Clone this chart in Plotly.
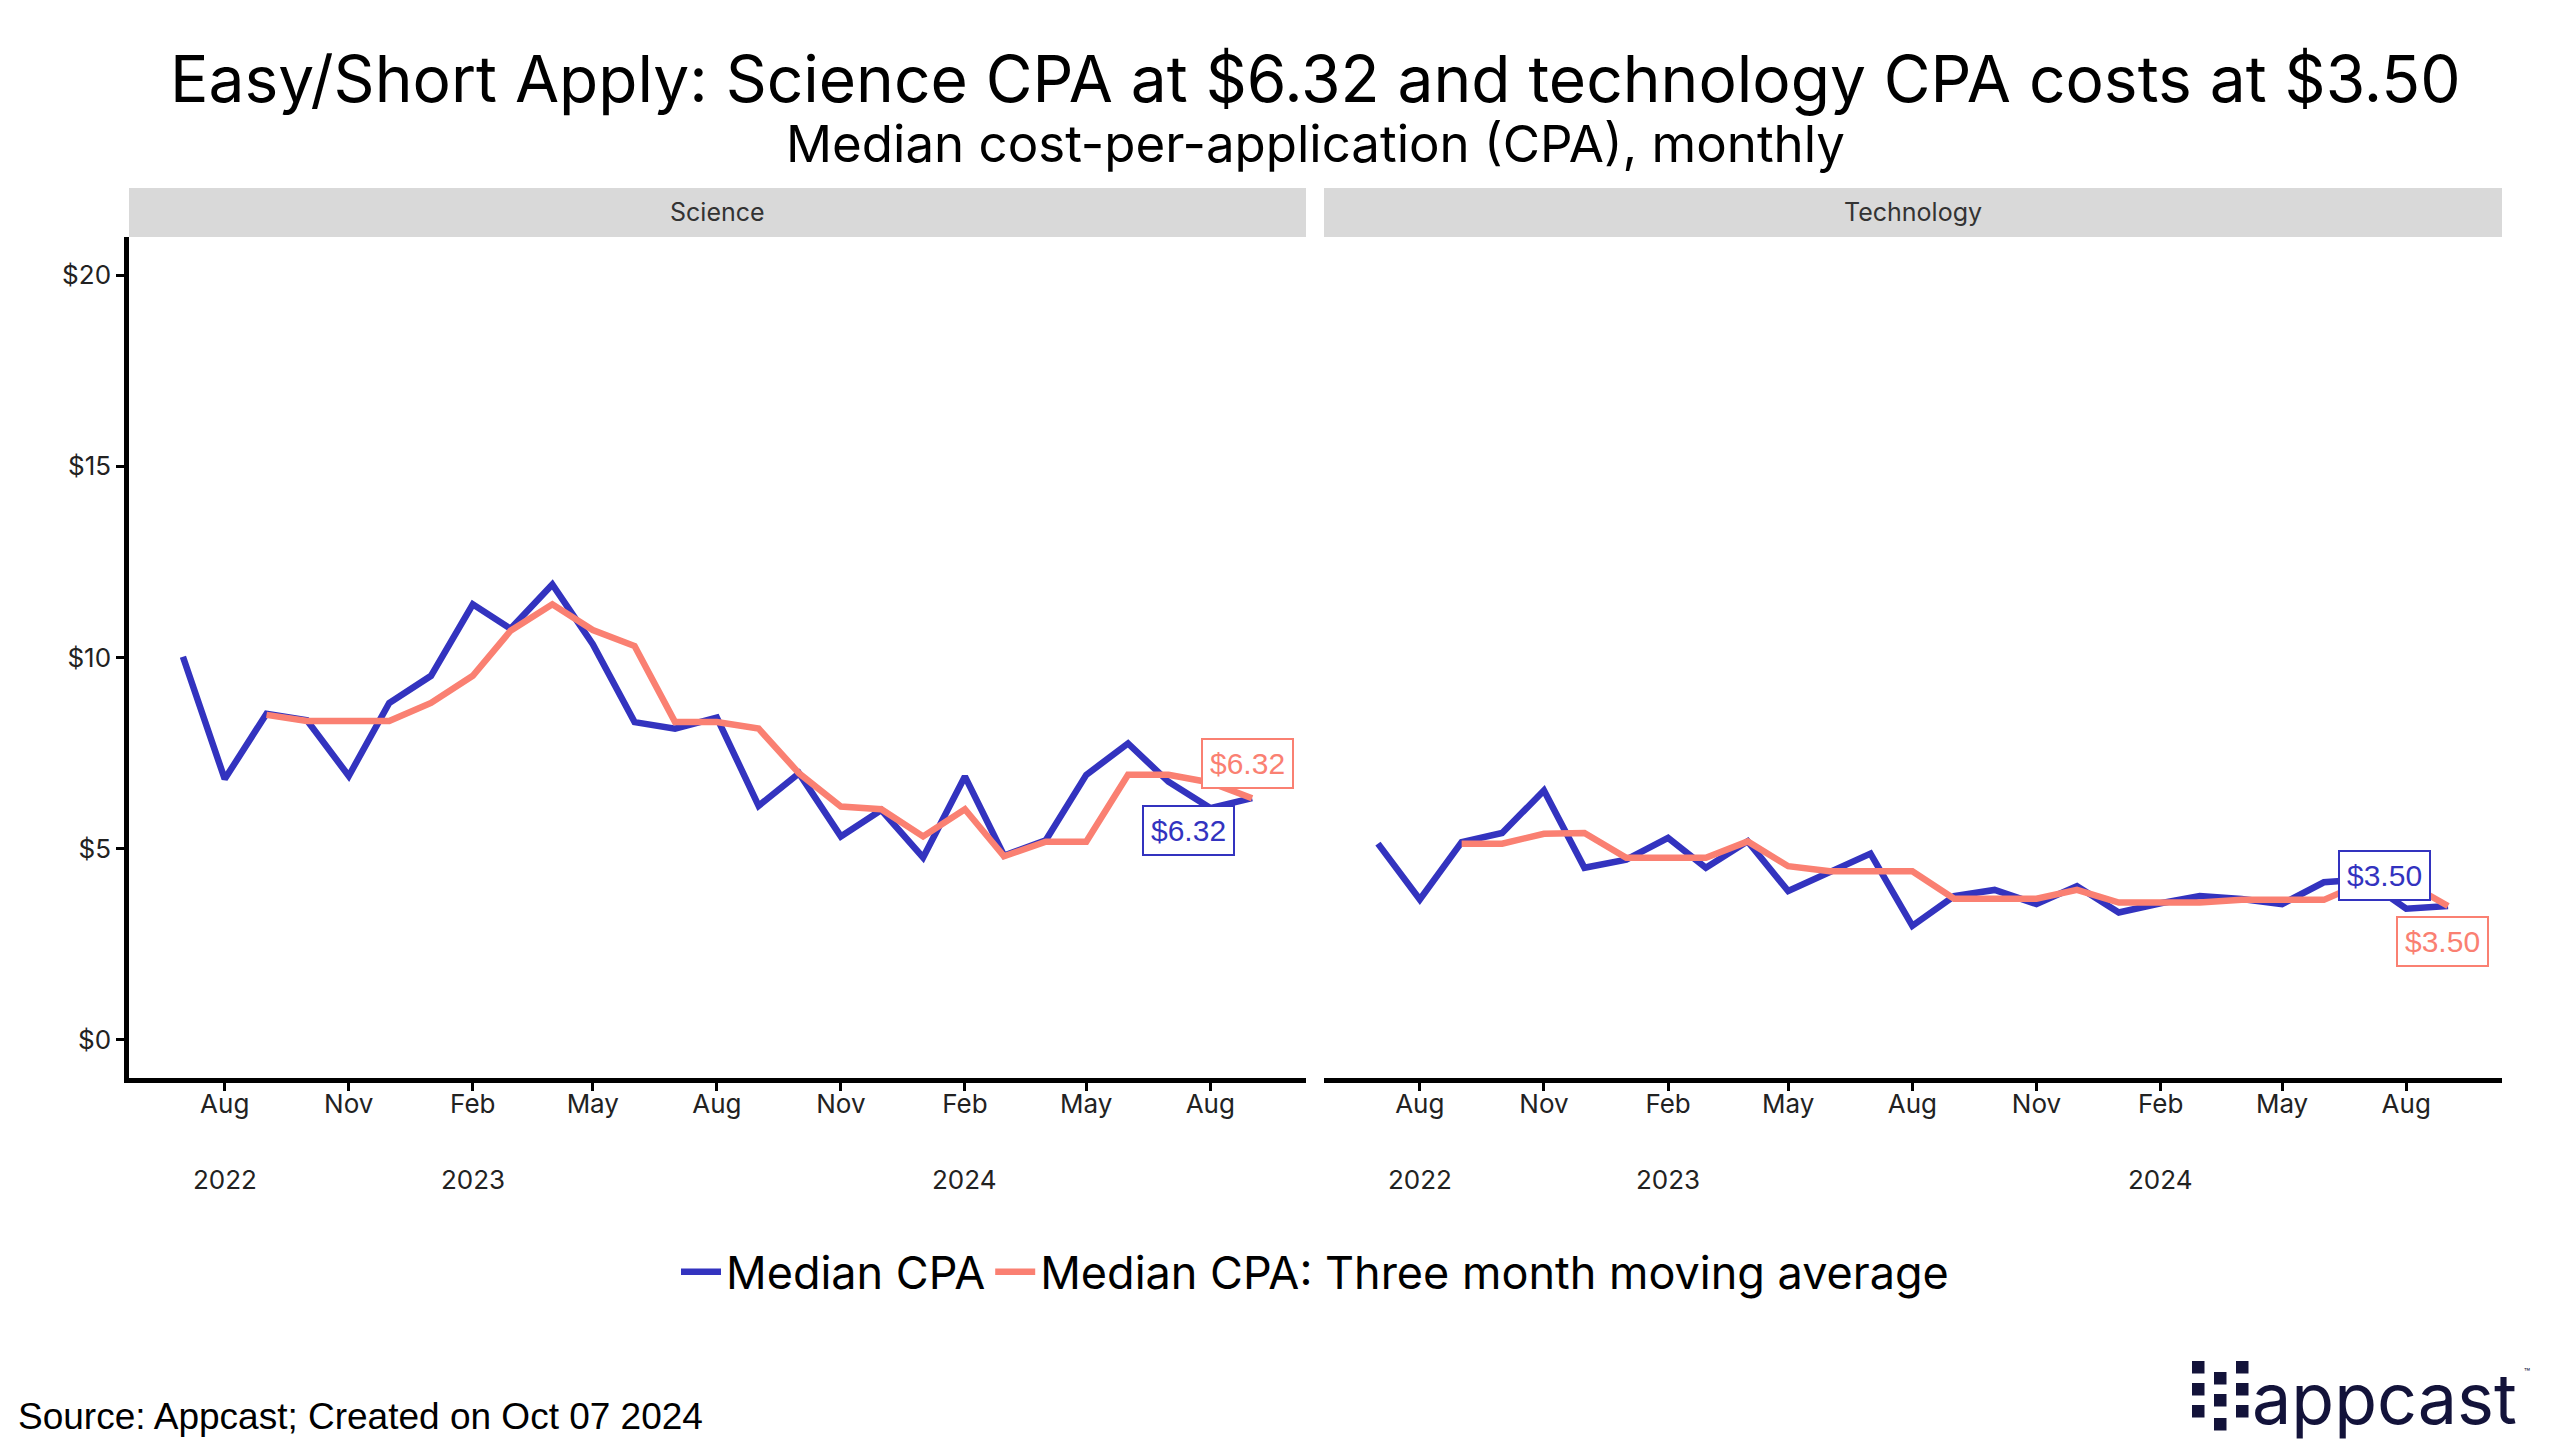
import plotly.graph_objects as go
import pandas as pd

# ---------------- data ----------------
months = pd.date_range("2022-07-01", "2024-09-01", freq="MS")

science_cpa = [10.02, 6.82, 8.53, 8.36, 6.90, 8.81,
               9.52, 11.39, 10.75, 11.91, 10.35, 8.31, 8.14, 8.43, 6.12, 6.97, 5.32, 6.01,
               4.77, 6.89, 4.82, 5.22, 6.93, 7.75, 6.75, 6.06, 6.32]
science_ma = [None, None, 8.50, 8.34, 8.34, 8.34,
              8.81, 9.52, 10.70, 11.39, 10.72, 10.30, 8.31, 8.31, 8.14, 6.97, 6.10, 6.03,
              5.32, 6.03, 4.80, 5.18, 5.18, 6.93, 6.93, 6.73, 6.32]

tech_cpa = [5.13, 3.67, 5.17, 5.41, 6.52, 4.50,
            4.71, 5.28, 4.50, 5.19, 3.89, 4.37, 4.87, 2.98, 3.76, 3.92, 3.55, 4.02,
            3.33, 3.57, 3.76, 3.68, 3.55, 4.12, 4.20, 3.43, 3.50]
tech_ma = [None, None, 5.13, 5.13, 5.39, 5.41,
           4.76, 4.76, 4.76, 5.19, 4.54, 4.41, 4.41, 4.41, 3.69, 3.69, 3.69, 3.92,
           3.59, 3.59, 3.59, 3.66, 3.66, 3.66, 4.12, 4.12, 3.50]

tick_dates = ["2022-08-01", "2022-11-01", "2023-02-01", "2023-05-01", "2023-08-01",
              "2023-11-01", "2024-02-01", "2024-05-01", "2024-08-01"]
tick_labels = ["Aug", "Nov", "Feb", "May", "Aug", "Nov", "Feb", "May", "Aug"]
year_dates = ["2022-08-01", "2023-02-01", "2024-02-01"]
year_labels = ["2022", "2023", "2024"]
y_ticks = [0, 5, 10, 15, 20]
y_tick_labels = ["$0", "$5", "$10", "$15", "$20"]
panels = ["Science", "Technology"]
series_names = ["Median CPA", "Median CPA: Three month moving average"]
end_labels = {"Science": "$6.32", "Technology": "$3.50"}

# ---------------- style ----------------
W, H = 2560, 1455
BLUE = "#3333BF"
ORANGE = "#FA8072"
FONT = "Inter, 'Open Sans', sans-serif"
ARIAL = "'Liberation Sans', Arial, sans-serif"


def px(x):
    return x / W


def py(y):
    return 1 - y / H


fig = go.Figure()

series = [
    ("x", "y", science_cpa, science_ma, True),
    ("x2", "y2", tech_cpa, tech_ma, False),
]
for xa, ya, cpa, ma, show in series:
    fig.add_trace(go.Scatter(x=months, y=cpa, mode="lines", name=series_names[0],
                             line=dict(color=BLUE, width=6.5), xaxis=xa, yaxis=ya,
                             legendgroup="a", showlegend=show))
    fig.add_trace(go.Scatter(x=months, y=ma, mode="lines", name=series_names[1],
                             line=dict(color=ORANGE, width=6.5), xaxis=xa, yaxis=ya,
                             legendgroup="b", showlegend=show, connectgaps=False))

x_range = ["2022-05-22", "2024-10-11"]
xcommon = dict(range=x_range, tickvals=tick_dates, ticktext=tick_labels, ticks="outside",
               ticklen=8, tickwidth=3, tickcolor="black", showline=True, linecolor="black",
               linewidth=4.5, showgrid=False, zeroline=False, ticklabelstandoff=-9,
               tickfont=dict(family=FONT, size=26, color="#222222"))
ycommon = dict(range=[-1, 21], showgrid=False, zeroline=False,
               domain=[py(1078), py(237)])

fig.update_layout(
    width=W, height=H,
    margin=dict(l=0, r=0, t=0, b=0),
    paper_bgcolor="white", plot_bgcolor="white",
    xaxis=dict(domain=[px(129), px(1306)], anchor="y", **xcommon),
    xaxis2=dict(domain=[px(1324), px(2502)], anchor="y2", **xcommon),
    yaxis=dict(anchor="x", tickvals=y_ticks, ticktext=y_tick_labels, ticks="outside",
               ticklen=8, tickwidth=3, tickcolor="black", showline=True, linecolor="black",
               linewidth=4.5, tickfont=dict(family=FONT, size=26, color="#222222"), **ycommon),
    yaxis2=dict(anchor="x2", showline=False, showticklabels=False, ticks="", **ycommon),
    showlegend=True,
    legend=dict(orientation="h", x=px(1315), xanchor="center", y=py(1272), yanchor="middle",
                font=dict(family=FONT, size=45, color="black"), itemwidth=40,
                bgcolor="rgba(0,0,0,0)"),
)

shapes = []
annotations = []

# strips
strips = [(129, 1306), (1324, 2502)]
for (x0, x1), name in zip(strips, panels):
    shapes.append(dict(type="rect", xref="paper", yref="paper", x0=px(x0), x1=px(x1),
                       y0=py(237), y1=py(188), fillcolor="#D9D9D9", line=dict(width=0),
                       layer="below"))
    annotations.append(dict(xref="paper", yref="paper", x=px((x0 + x1) / 2), y=py(212),
                            text=name, showarrow=False, xanchor="center", yanchor="middle",
                            font=dict(family=FONT, size=25, color="#333333")))

# year labels
for xa in ["x", "x2"]:
    for d, lab in zip(year_dates, year_labels):
        annotations.append(dict(xref=xa, yref="paper", x=d, y=py(1179), text=lab,
                                showarrow=False, xanchor="center", yanchor="middle",
                                font=dict(family=FONT, size=26, color="#222222")))

# end labels
label_specs = [
    ("x", "y", science_ma[-1], end_labels["Science"], ORANGE, -5, -35),
    ("x", "y", science_cpa[-1], end_labels["Science"], BLUE, -64, 32),
    ("x2", "y2", tech_cpa[-1], end_labels["Technology"], BLUE, -64, -30),
    ("x2", "y2", tech_ma[-1], end_labels["Technology"], ORANGE, -6, 36),
]
for xa, ya, yv, txt, col, ax, ay in label_specs:
    annotations.append(dict(xref=xa, yref=ya, x=months[-1], y=yv, text=txt,
                            showarrow=True, arrowcolor="rgba(0,0,0,0)", arrowwidth=0.1,
                            ax=ax, ay=ay, font=dict(family=ARIAL, size=30, color=col),
                            bordercolor=col, borderwidth=2, borderpad=7, bgcolor="white"))

# titles
annotations.append(dict(xref="paper", yref="paper", x=px(1315), y=py(78),
                        text="Easy/Short Apply: Science CPA at $6.32 and technology CPA costs at $3.50",
                        showarrow=False, xanchor="center", yanchor="middle",
                        font=dict(family=FONT, size=64, color="black")))
annotations.append(dict(xref="paper", yref="paper", x=px(1315), y=py(144),
                        text="Median cost-per-application (CPA), monthly",
                        showarrow=False, xanchor="center", yanchor="middle",
                        font=dict(family=FONT, size=51, color="black")))

# source
annotations.append(dict(xref="paper", yref="paper", x=px(16), y=py(1416),
                        text="Source: Appcast; Created on Oct 07 2024",
                        showarrow=False, xanchor="left", yanchor="middle",
                        font=dict(family=ARIAL, size=37, color="black")))

# logo
NAVY = "#13133A"
sq = 12.5
logo_cells = [(2192, 1361), (2192, 1383), (2192, 1405),
              (2236, 1361), (2236, 1383), (2236, 1405),
              (2214, 1372), (2214, 1394), (2214, 1418)]
for cx, cy in logo_cells:
    shapes.append(dict(type="rect", xref="paper", yref="paper", x0=px(cx), x1=px(cx + sq),
                       y0=py(cy + sq), y1=py(cy), fillcolor=NAVY, line=dict(width=0)))
annotations.append(dict(xref="paper", yref="paper", x=px(2250), y=py(1398),
                        text="appcast", showarrow=False, xanchor="left", yanchor="middle",
                        font=dict(family=FONT, size=70, color=NAVY)))
annotations.append(dict(xref="paper", yref="paper", x=px(2522), y=py(1372),
                        text="™", showarrow=False, xanchor="left", yanchor="middle",
                        font=dict(family=FONT, size=10, color=NAVY)))

fig.update_layout(shapes=shapes, annotations=annotations)

fig.write_html("out.html", config={"displayModeBar": False},
               post_script="document.body.style.margin='0px';")
